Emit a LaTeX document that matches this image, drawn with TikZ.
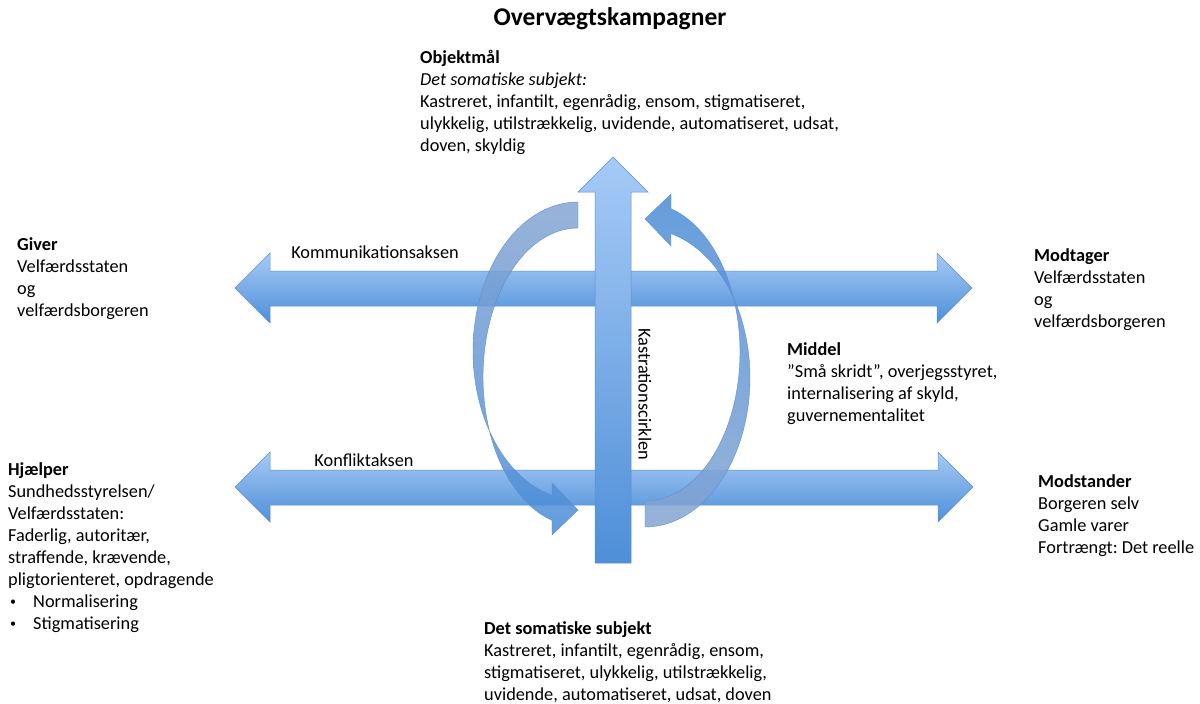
\documentclass[tikz,border=0pt]{standalone}
\usepackage{fontspec}
\setmainfont{Carlito}
\frenchspacing
\definecolor{hTop}{HTML}{A6CAF6}
\definecolor{hBot}{HTML}{4E8FD8}
\definecolor{edgeblue}{HTML}{5E8FCF}
\definecolor{tailc}{HTML}{86A6D3}
\definecolor{headc}{HTML}{4A8DD8}
\newcommand{\smbullet}{\hspace*{2pt}\makebox[23pt][l]{\raisebox{1.5pt}{\fontsize{12}{12}\selectfont •}}}
\begin{document}
\begin{tikzpicture}[x=1pt,y=-1pt,
  txt/.style={anchor=north west, inner sep=0pt, align=left, font=\fontsize{18.3}{22}\selectfont},
  lbl/.style={inner sep=0pt, font=\fontsize{18.3}{22}\selectfont},
  bigarrow/.style={draw=edgeblue, line width=0.5pt, top color=hTop, bottom color=hBot},
  curvL/.style={draw=edgeblue, line width=0.4pt, fill opacity=0.85, top color=tailc, bottom color=headc},
  curvR/.style={draw=edgeblue, line width=0.4pt, fill opacity=0.85, top color=headc, bottom color=tailc}]
\useasboundingbox (0,0) rectangle (1200,704);
\fill[white] (0,0) rectangle (1200,704);

% horizontal arrows
\path[bigarrow] (235,288) -- (270,253) -- (270,271) -- (937,271) -- (937,253) -- (972,288)
  -- (937,323) -- (937,306) -- (270,306) -- (270,323) -- cycle;
\path[bigarrow] (235,487) -- (270,452) -- (270,470) -- (938,470) -- (938,452) -- (973,487)
  -- (938,522) -- (938,505) -- (270,505) -- (270,522) -- cycle;

% curved arrows
\path[curvL] (578,510) -- (552,535)
  -- plot[domain=105.9:270,samples=80] ({578+95*cos(\x)},{377+149*sin(\x)})
  -- plot[domain=104.3:270,samples=80] ({578+105*cos(374.3-\x)},{351+149*sin(374.3-\x)})
  -- (552,483) -- cycle;
\path[curvR] (645,219) -- (671,194)
  -- plot[domain=105.9:270,samples=80] ({645-95*cos(\x)},{352-149*sin(\x)})
  -- plot[domain=104.3:270,samples=80] ({645-105*cos(374.3-\x)},{378-149*sin(374.3-\x)})
  -- (671,246) -- cycle;

% vertical arrow
\path[bigarrow] (613,157) -- (648,192) -- (631,192) -- (631,563) -- (595,563) -- (595,192)
  -- (578,192) -- cycle;

% labels
\node[inner sep=0pt, font=\fontsize{25.5}{28}\selectfont\bfseries] (title) at (610,19) {Overvægtskampagner};
\node[lbl] (komm) at (375,252) {Kommunikationsaksen};
\node[lbl] (konf) at (364,460) {Konfliktaksen};
\node[lbl, rotate=-90] (kast) at (645,394) {Kastrationscirklen};

\node[txt] (obj) at (420,50) {\textbf{Objektmål}\\\textit{Det somatiske subjekt:}\\Kastreret, infantilt, egenrådig, ensom, stigmatiseret,\\ulykkelig, utilstrækkelig, uvidende, automatiseret, udsat,\\doven, skyldig};
\node[txt] (giver) at (17,237) {\textbf{Giver}\\Velfærdsstaten\\og\\velfærdsborgeren};
\node[txt] (modt) at (1034,248) {\textbf{Modtager}\\Velfærdsstaten\\og\\velfærdsborgeren};
\node[txt] (middel) at (787,342) {\textbf{Middel}\\”Små skridt”, overjegsstyret,\\internalisering af skyld,\\guvernementalitet};
\node[txt] (hj) at (8,462) {\textbf{Hjælper}\\Sundhedsstyrelsen/\\Velfærdsstaten:\\Faderlig, autoritær,\\straffende, krævende,\\pligtorienteret, opdragende\\\smbullet Normalisering\\\smbullet Stigmatisering};
\node[txt] (modst) at (1038,474) {\textbf{Modstander}\\Borgeren selv\\Gamle varer\\Fortrængt: Det reelle};
\node[txt] (subj) at (484,621) {\textbf{Det somatiske subjekt}\\Kastreret, infantilt, egenrådig, ensom,\\stigmatiseret, ulykkelig, utilstrækkelig,\\uvidende, automatiseret, udsat, doven};
\end{tikzpicture}
\end{document}
